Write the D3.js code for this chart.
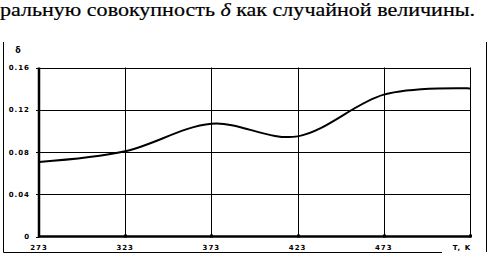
<!DOCTYPE html>
<html>
<head>
<meta charset="utf-8">
<script src="https://cdn.jsdelivr.net/npm/d3@7"></script>
<style>
  html, body { margin: 0; padding: 0; background: #fff; }
  svg { display: block; }
</style>
</head>
<body>
<div id="chart"></div>
<script>
const temps = [273, 323, 373, 423, 473, 523];
const deltaValues = [0.0706, 0.0807, 0.1067, 0.0948, 0.1343, 0.1402];
const xTickLabels = ["273", "323", "373", "423", "473"];
const yTicks = [0, 0.04, 0.08, 0.12, 0.16];

const width = 487, height = 255;
const margin = { top: 67.5, right: 17, bottom: 18.5, left: 39 };

const svg = d3.select("#chart").append("svg")
  .attr("width", width)
  .attr("height", height);

// title line from the text above the figure
const title = svg.append("text")
  .attr("x", 0)
  .attr("y", 16)
  .style("font-family", '"Liberation Serif"')
  .attr("font-size", 19)
  .attr("stroke", "#000")
  .attr("stroke-width", 0.2)
  .attr("textLength", 475)
  .attr("lengthAdjust", "spacingAndGlyphs");
title.append("tspan").text("ральную совокупность ");
title.append("tspan").attr("font-style", "italic").text("δ");
title.append("tspan").text(" как случайной величины.");

// frame around the figure
svg.append("path")
  .attr("d", `M3.5,42 V252.5 H442`)
  .attr("fill", "none")
  .attr("stroke", "#000")
  .attr("stroke-width", 1);
svg.append("line")
  .attr("x1", 486.5).attr("x2", 486.5)
  .attr("y1", 42).attr("y2", 252)
  .attr("stroke", "#000");

const x = d3.scaleLinear()
  .domain([273, 523])
  .range([margin.left, width - margin.right]);

const y = d3.scaleLinear()
  .domain([0, 0.16])
  .range([height - margin.bottom, margin.top]);

const g = svg.append("g");

// horizontal grid
g.selectAll(".hgrid")
  .data(yTicks.filter(d => d > 0))
  .enter().append("line")
  .attr("x1", x(273)).attr("x2", x(523))
  .attr("y1", d => Math.round(y(d)) + 0.5)
  .attr("y2", d => Math.round(y(d)) + 0.5)
  .attr("stroke", "#000")
  .attr("stroke-width", 1);

// vertical grid
g.selectAll(".vgrid")
  .data([323, 373, 423, 473, 523])
  .enter().append("line")
  .attr("x1", d => Math.round(x(d)) + 0.5)
  .attr("x2", d => Math.round(x(d)) + 0.5)
  .attr("y1", y(0.16)).attr("y2", y(0))
  .attr("stroke", "#000")
  .attr("stroke-width", 1);

// y axis ticks (small marks to the left)
g.selectAll(".ytick")
  .data(yTicks)
  .enter().append("line")
  .attr("x1", x(273) - 3).attr("x2", x(273))
  .attr("y1", d => Math.round(y(d)) + 0.5)
  .attr("y2", d => Math.round(y(d)) + 0.5)
  .attr("stroke", "#000");

// thick axes
g.append("line")
  .attr("x1", x(273)).attr("x2", x(273))
  .attr("y1", y(0.16)).attr("y2", y(0) + 1)
  .attr("stroke", "#000").attr("stroke-width", 2.5);
g.append("line")
  .attr("x1", x(273) - 1).attr("x2", x(523) + 1)
  .attr("y1", y(0)).attr("y2", y(0))
  .attr("stroke", "#000").attr("stroke-width", 2.5);

// small marks under the gridlines on the x axis
g.selectAll(".xdot")
  .data([323, 373, 423, 473, 523])
  .enter().append("rect")
  .attr("x", d => Math.round(x(d)) - 1)
  .attr("y", y(0) - 2)
  .attr("width", 3).attr("height", 3)
  .attr("fill", "#000");

const labelFont = "DejaVu Sans, Arial, sans-serif";

// y tick labels
g.selectAll(".ylab")
  .data(yTicks)
  .enter().append("text")
  .attr("x", 30)
  .attr("y", d => y(d) + 2.5)
  .attr("text-anchor", "end")
  .attr("font-family", labelFont)
  .attr("font-size", 7)
  .attr("font-weight", "bold")
  .attr("letter-spacing", 1)
  .text(d => d === 0 ? "0" : d3.format(".2f")(d));

// x tick labels
g.selectAll(".xlab")
  .data(xTickLabels)
  .enter().append("text")
  .attr("x", d => x(+d))
  .attr("y", 250)
  .attr("text-anchor", "middle")
  .attr("font-family", labelFont)
  .attr("font-size", 7)
  .attr("font-weight", "bold")
  .attr("letter-spacing", 1)
  .text(d => d);

// axis titles
svg.append("text")
  .attr("x", 18).attr("y", 53)
  .attr("text-anchor", "middle")
  .attr("font-family", labelFont)
  .attr("font-size", 8)
  .attr("font-weight", "bold")
  .text("δ");

svg.append("text")
  .attr("x", 462).attr("y", 250)
  .attr("text-anchor", "middle")
  .attr("font-family", labelFont)
  .attr("font-size", 7)
  .attr("font-weight", "bold")
  .attr("letter-spacing", 1)
  .text("T, K");

// smoothed curve
const line = d3.line()
  .x((d, i) => x(temps[i]))
  .y(d => y(d))
  .curve(d3.curveCatmullRom.alpha(0));

g.append("path")
  .datum(deltaValues)
  .attr("fill", "none")
  .attr("stroke", "#000")
  .attr("stroke-width", 2)
  .attr("d", line);
</script>
</body>
</html>
